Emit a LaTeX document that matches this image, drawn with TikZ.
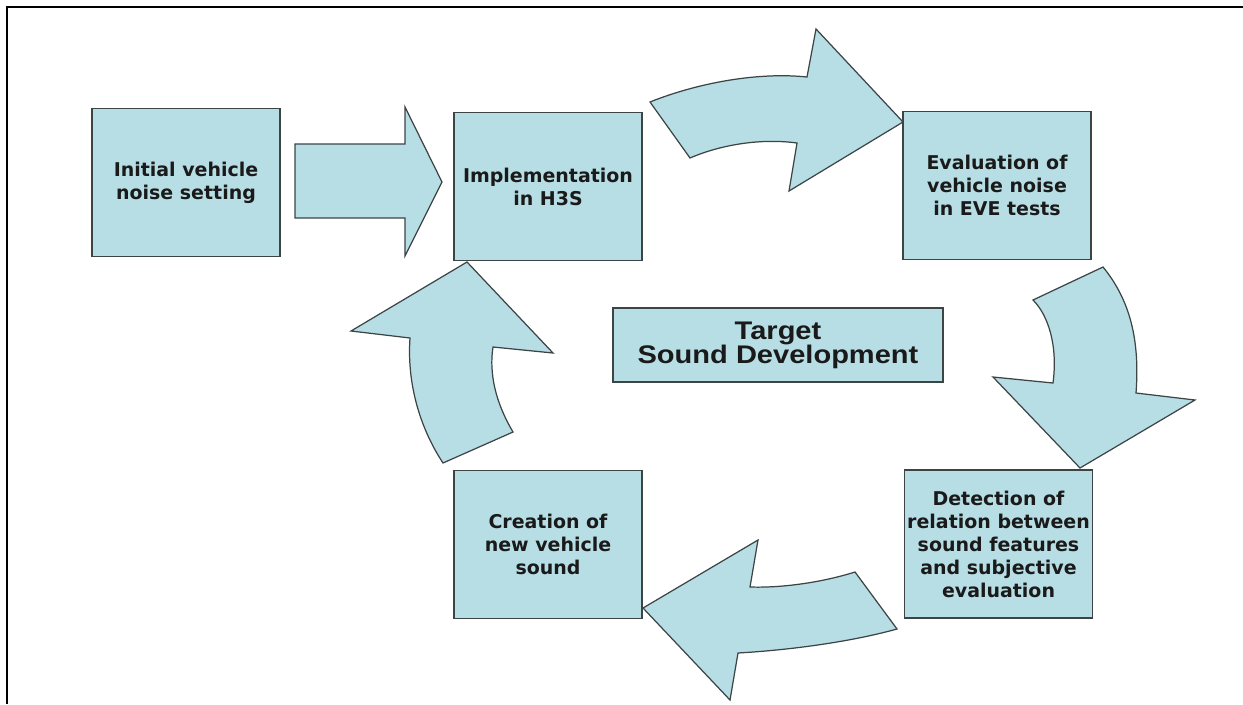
\documentclass[tikz,border=0pt]{standalone}
\usepackage{fontspec}
\usepackage{tikz}
\newfontfamily\stagefont{DejaVu Sans}
\newfontfamily\goalfont{Liberation Sans}[FakeStretch=1.14]
\definecolor{paleblue}{HTML}{B7DEE4}
\definecolor{edgegray}{HTML}{3C4446}
\definecolor{inkblack}{HTML}{1A1A1A}
\tikzstyle{stage} = [draw=edgegray, line width=0.7pt, rectangle, fill=paleblue, text=inkblack, text centered, align=center, inner sep=0pt, minimum width=3.76cm, minimum height=2.96cm, font=\stagefont\bfseries\fontsize{10.8}{13.1}\selectfont]
\tikzstyle{goal} = [draw=edgegray, line width=0.7pt, rectangle, fill=paleblue, text=inkblack, text centered, align=center, inner sep=0pt, minimum width=6.6cm, minimum height=1.48cm, font=\goalfont\bfseries\fontsize{14.5}{13.7}\selectfont]
\tikzstyle{blockarrow} = [draw=edgegray, line width=0.7pt, fill=paleblue, line join=miter]

\begin{document}
\begin{tikzpicture}[x=0.02cm, y=-0.02cm]
    \useasboundingbox (0,0) rectangle (1243,704);
    \draw[line width=1.4pt] (7,704) -- (7,7) -- (1243,7);
    \draw (186,182.5) node[stage] (A) {Initial vehicle \\ noise setting};
    \draw (548,186.5) node[stage] (B) {Implementation \\ in H3S};
    \draw (997,185.5) node[stage] (C) {Evaluation of \\ vehicle noise \\ in EVE tests};
    \draw (998.5,544) node[stage] (D) {Detection of \\ relation between \\ sound features \\ and subjective \\ evaluation};
    \draw (548,544.5) node[stage] (E) {Creation of \\ new vehicle \\ sound};
    \draw (778,345)   node[goal]  (F) {Target \\ Sound Development};
    \draw[blockarrow] (295,144) -- (405,144) -- (405,107) -- (442,182) -- (405,256) -- (405,218) -- (295,218) -- cycle;
    \draw[blockarrow] (650,102) .. controls (700,82) and (760,72) .. (807,77) -- (816,29) -- (903,122) -- (789,191) -- (797,143) .. controls (760,138) and (720,145) .. (690,158) -- cycle;
    \draw[blockarrow] (1103,267) .. controls (1130,300) and (1140,340) .. (1136,393) -- (1195,400) -- (1080,468) -- (993,377) -- (1053,383) .. controls (1058,345) and (1048,315) .. (1033,300) -- cycle;
    \draw[blockarrow] (897,629) .. controls (850,642) and (790,650) .. (738,653) -- (730,700) -- (643,608) -- (758,540) -- (750,587) .. controls (780,588) and (820,583) .. (855,572) -- cycle;
    \draw[blockarrow] (467,262) -- (553,353) -- (493,347) .. controls (488,380) and (500,410) .. (513,432) -- (443,463) .. controls (418,425) and (407,380) .. (410,338) -- (351,331) -- cycle;
\end{tikzpicture}
\end{document}
